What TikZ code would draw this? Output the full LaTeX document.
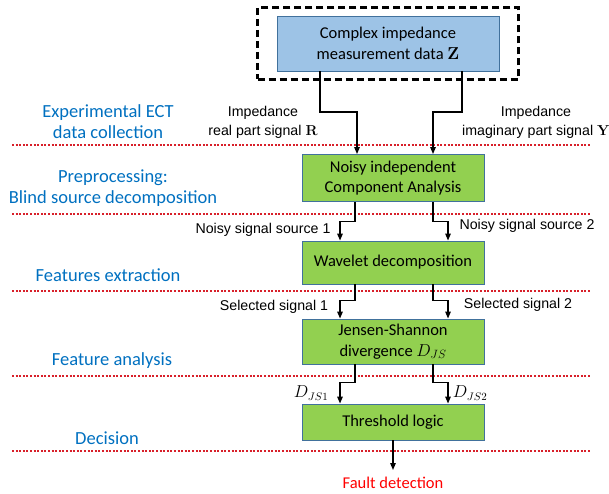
\documentclass[tikz,border=0pt]{standalone}
\usepackage[no-math]{fontspec}
\setmainfont{Carlito}
\newfontfamily\arialfont{Liberation Sans}
\usetikzlibrary{arrows.meta,positioning,calc,fit}
\definecolor{boxblue}{HTML}{9DC3E6}
\definecolor{boxgreen}{HTML}{92D050}
\definecolor{edgeblue}{HTML}{41719C}
\definecolor{stageblue}{HTML}{0070C0}
\definecolor{sepred}{HTML}{D8202A}

\begin{document}
\begin{tikzpicture}[
  x=1pt, y=-1pt,
  proc/.style={draw=edgeblue, line width=0.9pt, fill=boxgreen, rectangle, minimum width=182pt, align=center, font=\fontsize{16.5}{20.5}\selectfont},
  stage/.style={text=stageblue, align=center, font=\fontsize{18.5}{21}\selectfont},
  sig/.style={align=center, font=\arialfont\fontsize{14.2}{19}\selectfont},
  arr/.style={line width=1.3pt, -{Triangle[length=7pt,width=5.5pt]}},
  sep/.style={sepred, line width=2pt, dash pattern=on 2pt off 1.6pt}
]
\useasboundingbox (0,0) rectangle (609,493);

% separators between stages
\foreach \yy in {145,214,291,376,451}
  \draw[sep] (12,\yy) -- (590,\yy);

% boxes
\node[draw=edgeblue, line width=0.9pt, fill=boxblue, minimum width=222pt, minimum height=55pt, align=center, font=\fontsize{16.5}{20.5}\selectfont] (data) at (388,43.5) {Complex impedance\\measurement data $\mathbf{Z}$};
\node[draw, dashed, line width=2.2pt, dash pattern=on 7pt off 4pt, inner xsep=19pt, inner ysep=8pt, fit=(data)] (frame) {};
\node[proc, minimum height=47pt] (ica) at (393,178) {Noisy independent\\Component Analysis};
\node[proc, minimum height=43pt] (wav) at (393,262.5) {Wavelet decomposition};
\node[proc, minimum height=45pt] (jsd) at (393,341.5) {Jensen-Shannon\\divergence $D_{JS}$};
\node[proc, minimum height=36pt] (thr) at (393,422) {Threshold logic};
\coordinate (out) at (393,470);
\node[text=red, font=\fontsize{16.5}{20}\selectfont] (fault) at (393,483) {Fault detection};

% stages
\node[stage] (s1) at (108,122) {Experimental ECT\\data collection};
\node[stage] (s2) at (113,188) {Preprocessing:\\Blind source decomposition};
\node[stage] (s3) at (108,275) {Features extraction};
\node[stage] (s4) at (112,361) {Feature analysis};
\node[stage] (s5) at (107,438) {Decision};

% signal labels
\node[sig] (re) at (263,122) {Impedance\\real part signal $\mathbf{R}$};
\node[sig, inner xsep=0pt] (im) at (536,122) {Impedance\\imaginary part signal $\mathbf{Y}$};
\node[sig] (n1) at (263,230) {Noisy signal source 1};
\node[sig] (n2) at (527,226) {Noisy signal source 2};
\node[sig] (c1) at (274,307) {Selected signal 1};
\node[sig] (c2) at (518,305) {Selected signal 2};
\node[font=\fontsize{16}{18}\selectfont] (d1) at (311,393) {$D_{JS1}$};
\node[font=\fontsize{16}{18}\selectfont] (d2) at (470,393) {$D_{JS2}$};

% connectors
\draw[arr] ($(data.south)+(-68,0)$) |- ($(ica.north)+(-36,-42)$) -- ($(ica.north)+(-36,0)$);
\draw[arr] ($(data.south)+(74,0)$) |- ($(ica.north)+(40,-42)$) -- ($(ica.north)+(40,0)$);
\draw[arr] ($(ica.south)+(-38,0)$) |- ($(wav.north)+(-53,-19)$) -- ($(wav.north)+(-53,0)$);
\draw[arr] ($(ica.south)+(40,0)$) |- ($(wav.north)+(55,-19)$) -- ($(wav.north)+(55,0)$);
\draw[arr] ($(wav.south)+(-38,0)$) |- ($(jsd.north)+(-53,-18)$) -- ($(jsd.north)+(-53,0)$);
\draw[arr] ($(wav.south)+(40,0)$) |- ($(jsd.north)+(55,-18)$) -- ($(jsd.north)+(55,0)$);
\draw[arr] ($(jsd.south)+(-38,0)$) |- ($(thr.north)+(-53,-21)$) -- ($(thr.north)+(-53,0)$);
\draw[arr] ($(jsd.south)+(40,0)$) |- ($(thr.north)+(55,-21)$) -- ($(thr.north)+(55,0)$);
\draw[arr] (thr) -- (out);
\end{tikzpicture}
\end{document}
